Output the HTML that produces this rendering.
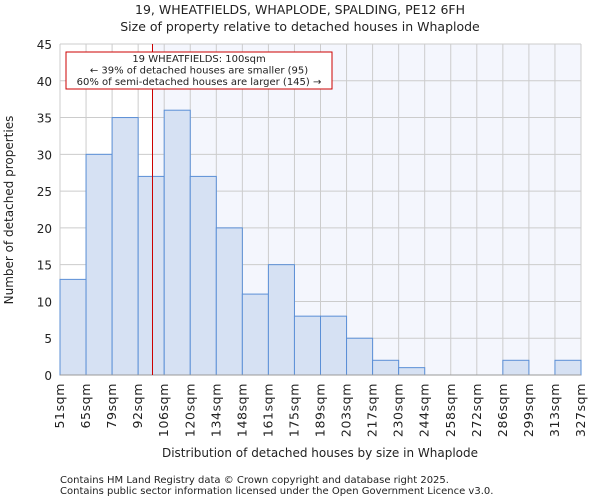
<!DOCTYPE html>
<html><head><meta charset="utf-8"><style>
body{margin:0;background:#fff;font-family:"DejaVu Sans","Liberation Sans",sans-serif;}
svg text{font-family:"DejaVu Sans","Liberation Sans",sans-serif;fill:#222;}
</style></head><body>
<svg id="chart" width="600" height="500" xmlns="http://www.w3.org/2000/svg">
<text x="300" y="14" text-anchor="middle" font-size="12.5">19, WHEATFIELDS, WHAPLODE, SPALDING, PE12 6FH</text>
<text x="300" y="31" text-anchor="middle" font-size="12.5">Size of property relative to detached houses in Whaplode</text>
<rect x="152" y="44" width="429" height="331" fill="#f4f6fd"/>
<g id="grid"></g>
<g id="bars"></g>
<g id="xticks"></g>
<g id="yticks"></g>
<line x1="60" x2="581" y1="375" y2="375" stroke="#999"/>
<line id="marker" y1="44" y2="375" stroke="#cc0000" stroke-width="1"/>
<g>
<rect x="66" y="52" width="266" height="37" fill="#fff" stroke="#cc0000"/>
<text x="199" y="62" text-anchor="middle" font-size="10">19 WHEATFIELDS: 100sqm</text>
<text x="199" y="73.5" text-anchor="middle" font-size="10">← 39% of detached houses are smaller (95)</text>
<text x="199" y="85" text-anchor="middle" font-size="10">60% of semi-detached houses are larger (145) →</text>
</g>
<text x="320" y="457" text-anchor="middle" font-size="12">Distribution of detached houses by size in Whaplode</text>
<text transform="translate(13,210) rotate(-90)" text-anchor="middle" font-size="12">Number of detached properties</text>
<text x="60" y="483" font-size="10" fill="#444">Contains HM Land Registry data © Crown copyright and database right 2025.</text>
<text x="60" y="494" font-size="10" fill="#444">Contains public sector information licensed under the Open Government Licence v3.0.</text>
</svg>
<script>
const binLabels=["51sqm","65sqm","79sqm","92sqm","106sqm","120sqm","134sqm","148sqm","161sqm","175sqm","189sqm","203sqm","217sqm","230sqm","244sqm","258sqm","272sqm","286sqm","299sqm","313sqm","327sqm"];
const counts=[13,30,35,27,36,27,20,11,15,8,8,5,2,1,0,0,0,2,0,2];
const yTicks=[0,5,10,15,20,25,30,35,40,45];
const binStart=51, binWidth=13.8, markerValue=100;
const ns="http://www.w3.org/2000/svg";
const L=60,R=581,T=44,B=375,yMax=45;
const bw=(R-L)/counts.length;
const xs=v=>L+(v-binStart)/binWidth*bw;
const ys=v=>B-v/yMax*(B-T);
function mk(t,a){const e=document.createElementNS(ns,t);for(const k in a)e.setAttribute(k,a[k]);return e;}
const grid=document.getElementById('grid'),bars=document.getElementById('bars'),xt=document.getElementById('xticks'),yt=document.getElementById('yticks');
yTicks.forEach(v=>{
 const l=mk('line',{x1:L,x2:R,y1:ys(v),y2:ys(v),stroke:'#ccc'});
 
 
 grid.appendChild(l);
 const t=mk('text',{x:L-8,y:ys(v)+5,'text-anchor':'end','font-size':'12'});t.textContent=v;
 
 
 yt.appendChild(t);
});
binLabels.forEach((s,i)=>{
 const x=L+i*bw;
 const l=mk('line',{x1:x,x2:x,y1:T,y2:B,stroke:'#ccc'});
 
 
 grid.appendChild(l);
 const t=mk('text',{transform:`translate(${x+4},${B+8}) rotate(-90)`,'text-anchor':'end','font-size':'12.5','letter-spacing':'0.6'});t.textContent=s;
 
 
 xt.appendChild(t);
});
counts.forEach((c,i)=>{
 if(c<=0)return;
 const r=mk('rect',{x:L+i*bw,y:ys(c),width:bw,height:B-ys(c),fill:'#d6e1f3',stroke:'#5b8fd6','stroke-width':'1'});
 
 
 bars.appendChild(r);
});
const m=document.getElementById('marker');m.setAttribute('x1',xs(markerValue));m.setAttribute('x2',xs(markerValue));
</script>
</body></html>
